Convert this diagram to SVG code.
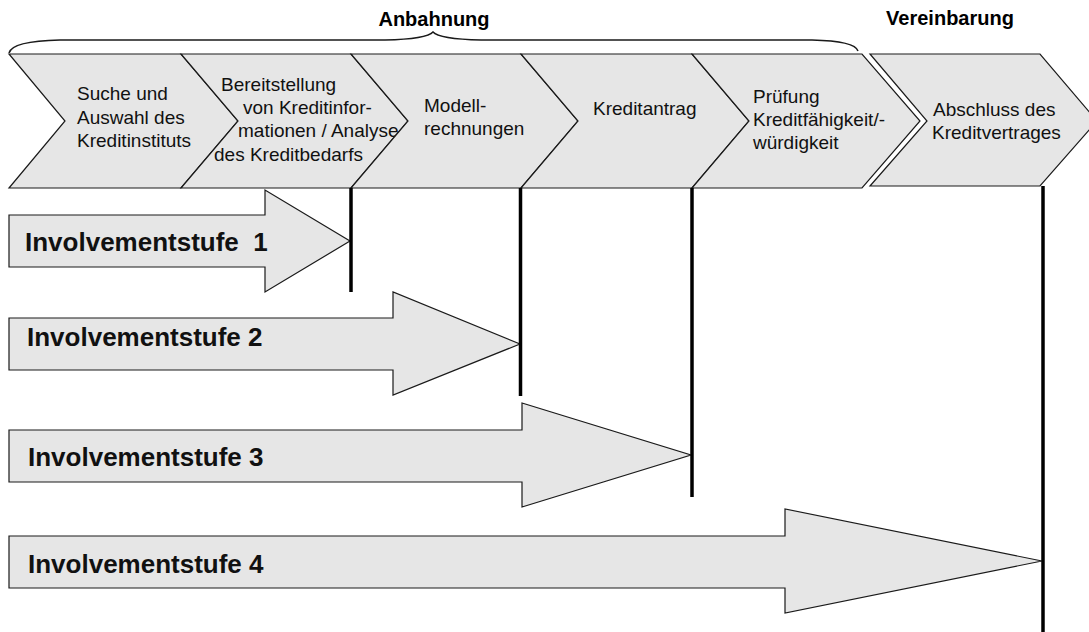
<svg xmlns="http://www.w3.org/2000/svg" width="1089" height="632" viewBox="0 0 1089 632">
<style>
.shape{fill:#e6e6e6;stroke:#1a1a1a;stroke-width:1.2;stroke-linejoin:miter}
.t{font-family:"Liberation Sans",Arial,sans-serif;font-size:19px;fill:#111}
.h{font-family:"Liberation Sans",Arial,sans-serif;font-size:20px;font-weight:bold;fill:#000}
.a{font-family:"Liberation Sans",Arial,sans-serif;font-size:26px;font-weight:bold;fill:#111}
.bar{stroke:#000;stroke-width:3.5;fill:none}
.brace{fill:none;stroke:#1a1a1a;stroke-width:1.5}
</style>
<rect width="1089" height="632" fill="#fff"/>
<g id="headers">
<text class="h" x="434" y="26" text-anchor="middle">Anbahnung</text>
<text class="h" x="950" y="25" text-anchor="middle">Vereinbarung</text>
<path class="brace" d="M9,53 Q12,41 60,40 L385,40 Q427,39 433,32 Q439,39 481,40 L812,40 Q855,41 858,51"/>
</g>
<g id="step1">
<polygon class="shape" points="9,54 181,54 238,121 181,188 9,188 65,121"/>
<text class="t" x="77" y="100">Suche und</text>
<text class="t" x="77" y="123.5">Auswahl des</text>
<text class="t" x="77" y="147">Kreditinstituts</text>
</g>
<g id="step2">
<polygon class="shape" points="181,54 351,54 408,121 351,188 181,188 238,121"/>
<text class="t" x="221" y="90.5">Bereitstellung</text>
<text class="t" x="243" y="113.5">von Kreditinfor-</text>
<text class="t" x="238" y="137">mationen / Analyse</text>
<text class="t" x="214" y="160.5">des Kreditbedarfs</text>
</g>
<g id="step3">
<polygon class="shape" points="351,54 521,54 578,121 521,188 351,188 408,121"/>
<text class="t" x="424" y="112">Modell-</text>
<text class="t" x="424" y="134.5">rechnungen</text>
</g>
<g id="step4">
<polygon class="shape" points="521,54 692,54 749,121 692,188 521,188 578,121"/>
<text class="t" x="593" y="115">Kreditantrag</text>
</g>
<g id="step5">
<polygon class="shape" points="692,54 862,54 920,121 862,188 692,188 749,121"/>
<text class="t" x="753" y="103">Prüfung</text>
<text class="t" x="753" y="126">Kreditfähigkeit/-</text>
<text class="t" x="753" y="148.5">würdigkeit</text>
</g>
<g id="step6">
<polygon class="shape" points="870,54 1040,54 1097,121 1040,186 870,186 927,121"/>
<text class="t" x="933" y="116">Abschluss des</text>
<text class="t" x="932" y="138.5">Kreditvertrages</text>
</g>
<g id="stufe1">
<polygon class="shape" points="9,215 265,215 265,190 350,241 265,292 265,267 9,267"/>
<text class="a" x="25" y="251" xml:space="preserve">Involvementstufe  1</text>
</g>
<g id="stufe2">
<polygon class="shape" points="9,318 393,318 393,292 520,344 393,395 393,370 9,370"/>
<text class="a" x="27" y="346">Involvementstufe 2</text>
</g>
<g id="stufe3">
<polygon class="shape" points="9,430 522,430 522,403 691,455 522,507 522,482 9,482"/>
<text class="a" x="28" y="466">Involvementstufe 3</text>
</g>
<g id="stufe4">
<polygon class="shape" points="9,536 785,536 785,509 1042,561 785,613 785,588 9,588"/>
<text class="a" x="28" y="573">Involvementstufe 4</text>
</g>
<g id="connectors">
<line class="bar" x1="351" y1="188" x2="351" y2="292"/>
<line class="bar" x1="520.5" y1="188" x2="520.5" y2="396"/>
<line class="bar" x1="692" y1="188" x2="692" y2="497"/>
<line class="bar" x1="1043" y1="186" x2="1043" y2="632"/>
</g>
</svg>
